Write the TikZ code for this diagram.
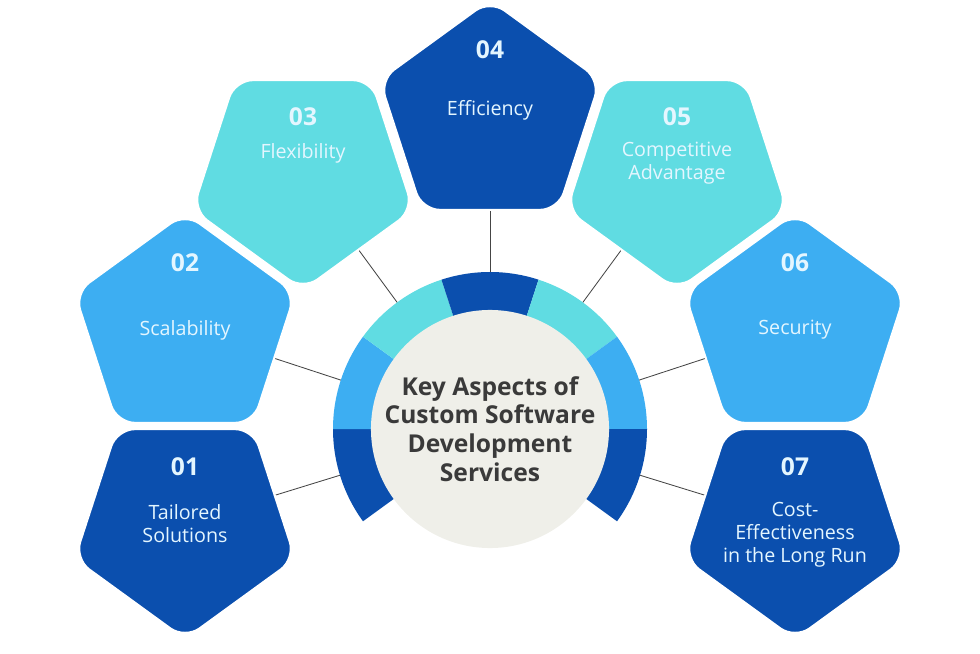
\documentclass[tikz,border=0pt]{standalone}
\usepackage{fontspec}
\setmainfont{Open Sans}
\usetikzlibrary{shapes.geometric, backgrounds}
\definecolor{darkblue}{HTML}{0B4FAE}
\definecolor{midblue}{HTML}{3DAEF2}
\definecolor{aqua}{HTML}{60DCE2}
\definecolor{hubfill}{HTML}{EFEFE9}
\definecolor{hubtext}{HTML}{3A3A3A}
\definecolor{pentext}{HTML}{E4F6FF}
\definecolor{linkline}{HTML}{454545}
\tikzset{
  pent/.style    = {regular polygon, regular polygon sides=5, minimum size=58mm,
                    inner sep=0pt, rounded corners=4.5mm, draw=white, line width=1.5pt},
  pentdown/.style= {pent, shape border rotate=180},
  num/.style     = {font=\fontsize{17.5}{20}\selectfont\bfseries, text=pentext},
  txt/.style     = {font=\fontsize{14}{16.2}\selectfont, text=pentext, align=center},
  hub/.style     = {circle, fill=hubfill, minimum size=59.5mm, inner sep=0pt, align=center,
                    font=\fontsize{17.5}{20.5}\selectfont\bfseries, text=hubtext},
  link/.style    = {draw=linkline, line width=0.6pt},
}
\begin{document}
\begin{tikzpicture}[x=0.025cm, y=0.025cm]
        \useasboundingbox (0,0) rectangle (980,653);
        \node[pentdown, fill=darkblue] (p1) at (185,130) {};
        \node[pent,     fill=midblue]  (p2) at (185,324) {};
        \node[pentdown, fill=aqua]     (p3) at (303,479) {};
        \node[pent,     fill=darkblue] (p4) at (490,537) {};
        \node[pentdown, fill=aqua]     (p5) at (677,479) {};
        \node[pent,     fill=midblue]  (p6) at (795,324) {};
        \node[pentdown, fill=darkblue] (p7) at (795,130) {};
        \node[num] (n1) at (185,186) {01};
        \node[num] (n2) at (185,390) {02};
        \node[num] (n3) at (303,536) {03};
        \node[num] (n4) at (490,603) {04};
        \node[num] (n5) at (677,536) {05};
        \node[num] (n6) at (795,390) {06};
        \node[num] (n7) at (795,186) {07};
        \node[txt] (t1) at (185,129) {Tailored\\Solutions};
        \node[txt] (t2) at (185,323) {Scalability};
        \node[txt] (t3) at (303,500) {Flexibility};
        \node[txt] (t4) at (490,543) {Efficiency};
        \node[txt] (t5) at (677,490) {Competitive\\Advantage};
        \node[txt] (t6) at (795,323) {Security};
        \node[txt] (t7) at (795,118) {Cost-\\Effectiveness\\in the Long Run};
        \node[hub] (hub) at (490,224) {Key Aspects of\\Custom Software\\Development\\Services};
        \begin{scope}[on background layer]
            \foreach \p in {p1,p2,p3,p4,p5,p6,p7}{\draw[link] (hub.center) -- (\p.center);}
            \foreach \a/\col in {216/darkblue, 180/midblue, 144/aqua, 108/darkblue, 72/aqua, 36/midblue, 0/darkblue}{
                \fill[\col] (hub.center) -- ++(\a:157) arc[start angle=\a, end angle=\a-36, radius=157] -- cycle;}
        \end{scope}
    \end{tikzpicture}
\end{document}
